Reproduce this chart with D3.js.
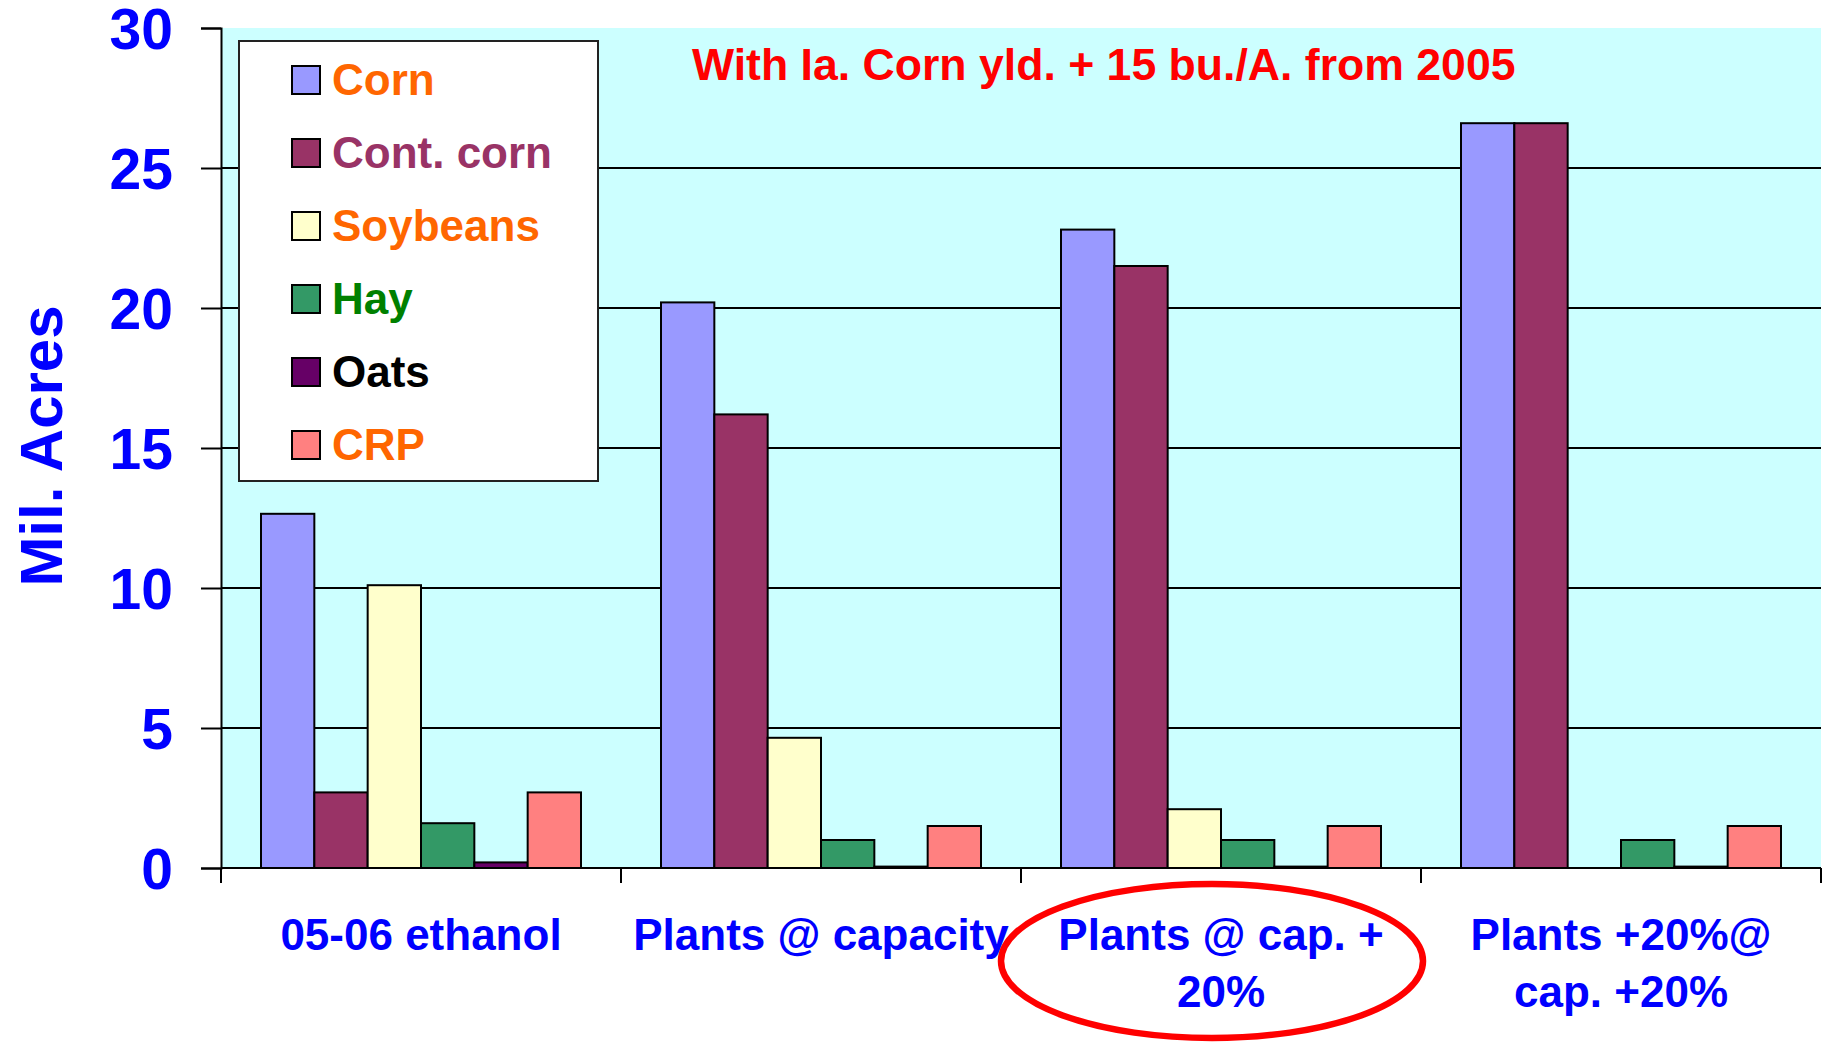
<!DOCTYPE html>
<html>
<head>
<meta charset="utf-8">
<script src="https://cdn.jsdelivr.net/npm/d3@7"></script>
<style>
  html, body { margin: 0; padding: 0; background: #fff; }
  svg { display: block; font-family: "Liberation Sans", Arial, sans-serif; font-weight: bold; }
</style>
</head>
<body>
<div id="chart"></div>
<script>
/**
 * DATA
 * */
const categories = ["05-06 ethanol", "Plants @ capacity", "Plants @ cap. +\n20%", "Plants +20%@\ncap. +20%"];
const seriesNames = ["Corn", "Cont. corn", "Soybeans", "Hay", "Oats", "CRP"];
const cornVals = [12.65, 20.2, 22.8, 26.6];
const contCornVals = [2.7, 16.2, 21.5, 26.6];
const soyVals = [10.1, 4.65, 2.1, 0];
const hayVals = [1.6, 1.0, 1.0, 1.0];
const oatsVals = [0.2, 0.05, 0.05, 0.05];
const crpVals = [2.7, 1.5, 1.5, 1.5];
const yTicks = [0, 5, 10, 15, 20, 25, 30];
const titleText = "With Ia. Corn yld. + 15 bu./A. from 2005";
const yTitle = "Mil. Acres";

/**
 * CONSTANTS
 * */
const width = 1827, height = 1042;
const plot = { left: 221, right: 1821, top: 28, bottom: 868 };
const barColors = ["#9999FF", "#993366", "#FFFFCC", "#339966", "#660066", "#FF8080"];
const legendTextColors = ["#FF6600", "#993366", "#FF6600", "#008000", "#000000", "#FF6600"];
const allVals = [cornVals, contCornVals, soyVals, hayVals, oatsVals, crpVals];

const svg = d3.select("#chart").append("svg")
  .attr("width", width)
  .attr("height", height);

const x0 = d3.scaleBand()
  .domain(categories)
  .range([plot.left, plot.right])
  .paddingInner(0.2)
  .paddingOuter(0.1);

const x1 = d3.scaleBand()
  .domain(seriesNames)
  .range([0, x0.bandwidth()]);

const y = d3.scaleLinear()
  .domain([0, 30])
  .range([plot.bottom, plot.top]);

// plot background
svg.append("rect")
  .attr("x", plot.left).attr("y", plot.top)
  .attr("width", plot.right - plot.left)
  .attr("height", plot.bottom - plot.top)
  .attr("fill", "#CCFFFF");

// gridlines (not at top)
svg.append("g")
  .selectAll("line")
  .data(yTicks.filter(d => d > 0 && d < 30))
  .join("line")
  .attr("x1", plot.left).attr("x2", plot.right)
  .attr("y1", d => y(d)).attr("y2", d => y(d))
  .attr("stroke", "#000").attr("stroke-width", 2);

// bars
const groups = svg.append("g")
  .selectAll("g")
  .data(categories)
  .join("g")
  .attr("transform", d => `translate(${x0(d)},0)`);

groups.selectAll("rect")
  .data((c, i) => seriesNames.map((s, j) => ({ s, j, v: allVals[j][i] })).filter(d => d.v > 0))
  .join("rect")
  .attr("x", d => x1(d.s))
  .attr("width", x1.bandwidth())
  .attr("y", d => y(d.v))
  .attr("height", d => y(0) - y(d.v))
  .attr("fill", d => barColors[d.j])
  .attr("stroke", "#000")
  .attr("stroke-width", 2);

// y axis
const yAxis = svg.append("g")
  .attr("transform", `translate(${plot.left},0)`)
  .call(d3.axisLeft(y).tickValues(yTicks).tickSize(20).tickPadding(28));
yAxis.select(".domain").attr("stroke", "#000").attr("stroke-width", 2);
yAxis.selectAll(".tick line").attr("stroke", "#000").attr("stroke-width", 2);
yAxis.selectAll(".tick text")
  .attr("fill", "#0000FF")
  .attr("font-size", 57)
  .attr("font-family", "Liberation Sans, Arial, sans-serif")
  .attr("font-weight", "bold")
  .attr("dy", "0.36em");

// x axis line + ticks at group boundaries
const xBounds = [plot.left].concat(categories.map((c, i) => plot.left + (i + 1) * x0.step()));
svg.append("line")
  .attr("x1", plot.left).attr("x2", plot.right)
  .attr("y1", plot.bottom).attr("y2", plot.bottom)
  .attr("stroke", "#000").attr("stroke-width", 2);
svg.append("g")
  .selectAll("line")
  .data(xBounds)
  .join("line")
  .attr("x1", d => d).attr("x2", d => d)
  .attr("y1", plot.bottom).attr("y2", plot.bottom + 15)
  .attr("stroke", "#000").attr("stroke-width", 2);

// x labels
const xLab = svg.append("g")
  .selectAll("text")
  .data(categories)
  .join("text")
  .attr("x", d => x0(d) + x0.bandwidth() / 2)
  .attr("y", 950)
  .attr("text-anchor", "middle")
  .attr("fill", "#0000FF")
  .attr("font-size", 44);
xLab.selectAll("tspan")
  .data(d => d.split("\n"))
  .join("tspan")
  .attr("x", function () { return d3.select(this.parentNode).attr("x"); })
  .attr("dy", (d, i) => i === 0 ? 0 : 57)
  .text(d => d);

// y title
svg.append("text")
  .attr("transform", "translate(62,446) rotate(-90)")
  .attr("text-anchor", "middle")
  .attr("fill", "#0000FF")
  .attr("font-size", 60)
  .text(yTitle);

// chart note
svg.append("text")
  .attr("x", 692).attr("y", 80)
  .attr("fill", "#FF0000")
  .attr("font-size", 44.6)
  .text(titleText);

// legend
const legend = svg.append("g");
legend.append("rect")
  .attr("x", 239).attr("y", 41)
  .attr("width", 359).attr("height", 440)
  .attr("fill", "#fff")
  .attr("stroke", "#222").attr("stroke-width", 2);
const li = legend.selectAll("g.item")
  .data(seriesNames)
  .join("g")
  .attr("class", "item")
  .attr("transform", (d, i) => `translate(0,${80 + i * 73})`);
li.append("rect")
  .attr("x", 292).attr("y", -14)
  .attr("width", 28).attr("height", 28)
  .attr("fill", (d, i) => barColors[i])
  .attr("stroke", "#000").attr("stroke-width", 2);
li.append("text")
  .attr("x", 332).attr("y", 15)
  .attr("fill", (d, i) => legendTextColors[i])
  .attr("font-size", 44)
  .text(d => d);

// red highlight ellipse around third category label
svg.append("ellipse")
  .attr("cx", 1212)
  .attr("cy", 961)
  .attr("rx", 211).attr("ry", 77)
  .attr("fill", "none")
  .attr("stroke", "#FF0000")
  .attr("stroke-width", 6.5);
</script>
</body>
</html>
